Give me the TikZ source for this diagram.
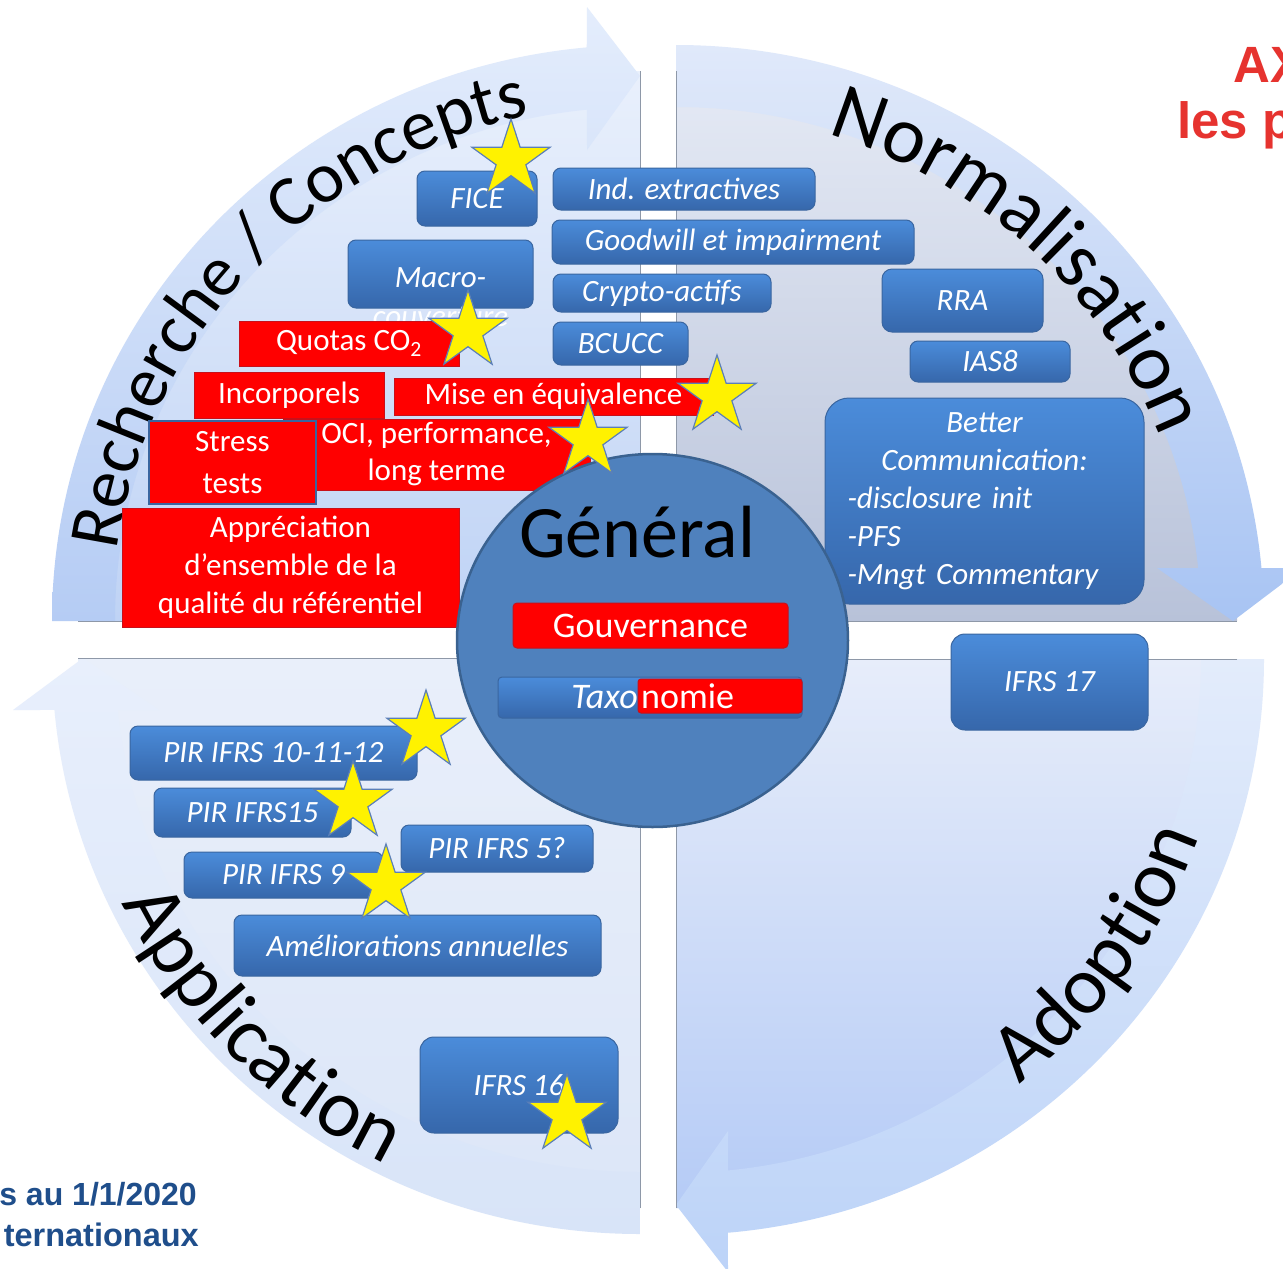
\documentclass[tikz,border=0pt]{standalone}
\usepackage{fontspec}
\setmainfont{Carlito}
\newfontfamily\arialfont{Liberation Sans}
\usetikzlibrary{shapes.geometric,decorations.text}

% box and shape colours
\definecolor{boxtop}{HTML}{4B8CDA}
\definecolor{boxbot}{HTML}{3667AB}
\definecolor{boxedge}{HTML}{3A66A0}
\definecolor{boxred}{HTML}{FF0000}
\definecolor{rededge}{HTML}{C8101A}
\definecolor{circfill}{HTML}{4F81BD}
\definecolor{circedge}{HTML}{3A6290}
\definecolor{staredge}{HTML}{5B7FB8}
\definecolor{pieline}{HTML}{8E98A8}
\definecolor{titlered}{HTML}{E6332F}
\definecolor{navytext}{HTML}{1F4E8B}
% quadrant colours (pie and arrow band, top/bottom)
\definecolor{tlpt}{HTML}{E9F0FC}\definecolor{tlpb}{HTML}{BFD3F5}
\definecolor{tlbt}{HTML}{E4EDFC}\definecolor{tlbb}{HTML}{B5CCF4}
\definecolor{trpt}{HTML}{E5EAF5}\definecolor{trpb}{HTML}{B8C2D9}
\definecolor{trbt}{HTML}{E0E9FA}\definecolor{trbb}{HTML}{A8C4F3}
\definecolor{brpt}{HTML}{E7EDFA}\definecolor{brpb}{HTML}{B5CBF6}
\definecolor{brbt}{HTML}{E3ECFB}\definecolor{brbb}{HTML}{BCD3F8}
\definecolor{blpt}{HTML}{E9EFFA}\definecolor{blpb}{HTML}{DCE6F8}
\definecolor{blbt}{HTML}{E8EFFC}\definecolor{blbb}{HTML}{D8E4F8}

\tikzset{
  pieedge/.style={draw=pieline, line width=1pt},
  boxsize/.style 2 args={minimum width=#1pt, minimum height=#2pt},
  bluebox/.style={rounded corners=8pt, top color=boxtop, bottom color=boxbot,
    draw=boxedge, line width=1pt, text=white, inner sep=0pt, align=center,
    font=\itshape\fontsize{31}{38}\selectfont},
  redbox/.style={fill=boxred, draw=rededge, line width=1pt, text=white,
    inner sep=0pt, align=center, font=\fontsize{31}{38}\selectfont},
  ystar/.style={star, star points=5, star point ratio=2.618, fill=yellow,
    draw=staredge, line width=1.2pt, minimum size=82pt, inner sep=0pt},
  plain/.style={inner sep=0pt}
}

\begin{document}
\begin{tikzpicture}[x=1pt, y=-1pt]

\useasboundingbox (0,0) rectangle (1283,1269);
\fill[white] (0,0) rectangle (1283,1269);

% ---------- quadrant: Recherche / Concepts ----------
\begin{scope}[shift={(640,621)}]
  \shade[top color=tlpt, bottom color=tlpb] (0,0) -- (180:562 and 550)
    arc[start angle=180, end angle=270, x radius=562, y radius=550] -- cycle;
  \shade[top color=tlbt, bottom color=tlbb] (180:588 and 576)
    arc[start angle=180, end angle=264.8, x radius=588, y radius=576]
    -- (-53,-614) -- (0,-545) -- (-53,-471) -- (264.2:525 and 514)
    arc[start angle=264.2, end angle=180, x radius=525, y radius=514] -- cycle;
  \draw[pieedge] (-562,0) -- (0,0) -- (0,-550);
  \path[decorate, decoration={text along path, text align=center,
    text={|\fontsize{72}{72}\selectfont|Recherche / Concepts}}]
    (148.5:528 and 517) arc[start angle=148.5, end angle=296.5, x radius=528, y radius=517];
\end{scope}

% ---------- quadrant: Normalisation ----------
\begin{scope}[shift={(676,621)}]
  \shade[top color=trpt, bottom color=trpb] (0,0) -- (270:561 and 550)
    arc[start angle=270, end angle=360, x radius=561, y radius=550] -- cycle;
  \shade[top color=trbt, bottom color=trbb] (270:588 and 576)
    arc[start angle=270, end angle=354.72, x radius=588, y radius=576]
    -- (627,-53) -- (557,0) -- (481,-53) -- (354.08:525 and 514)
    arc[start angle=354.08, end angle=270, x radius=525, y radius=514] -- cycle;
  \draw[pieedge] (0,-550) -- (0,0) -- (561,0);
  \path[decorate, decoration={text along path, text align=center,
    text={|\fontsize{81}{81}\selectfont|Normalisation}}]
    (253.2:519 and 509) arc[start angle=253.2, end angle=373.2, x radius=519, y radius=509];
\end{scope}

% ---------- quadrant: Adoption ----------
\begin{scope}[shift={(676,659)}]
  \shade[top color=brpt, bottom color=brpb] (0,0) -- (0:561 and 549)
    arc[start angle=0, end angle=90, x radius=561, y radius=549] -- cycle;
  \shade[top color=brbt, bottom color=brbb] (0:588 and 576)
    arc[start angle=0, end angle=84.93, x radius=588, y radius=576]
    -- (52,613) -- (0,546) -- (52,472) -- (84.32:525 and 514)
    arc[start angle=84.32, end angle=0, x radius=525, y radius=514] -- cycle;
  \draw[pieedge] (561,0) -- (0,0) -- (0,549);
  \path[decorate, decoration={text along path, text align=center,
    text={|\fontsize{82}{82}\selectfont|Adoption}}]
    (95:553 and 542) arc[start angle=95, end angle=-25, x radius=553, y radius=542];
\end{scope}

% ---------- quadrant: Application ----------
\begin{scope}[shift={(640,658)}]
  \shade[top color=blpt, bottom color=blpb] (0,0) -- (90:562 and 550)
    arc[start angle=90, end angle=180, x radius=562, y radius=550] -- cycle;
  \shade[top color=blbt, bottom color=blbb] (90:588 and 576)
    arc[start angle=90, end angle=174.82, x radius=588, y radius=576]
    -- (-627,52) -- (-557,0) -- (-481,52) -- (174.19:525 and 514)
    arc[start angle=174.19, end angle=90, x radius=525, y radius=514] -- cycle;
  \draw[pieedge] (0,550) -- (0,0) -- (-562,0);
  \path[decorate, decoration={text along path, text align=center,
    text={|\fontsize{82}{82}\selectfont|Application}}]
    (195.6:576 and 564) arc[start angle=195.6, end angle=75.6, x radius=576, y radius=564];
\end{scope}

% ---------- titles ----------
\node[plain, anchor=base west, text=titlered, font=\arialfont\bfseries\fontsize{51}{51}\selectfont] (title1) at (1233,82) {AX};
\node[plain, anchor=base west, text=titlered, font=\arialfont\bfseries\fontsize{51}{51}\selectfont] (title2) at (1177,138) {les p};
\node[plain, anchor=base east, text=navytext, font=\arialfont\bfseries\fontsize{32}{32}\selectfont] (foot1) at (197,1205) {s au 1/1/2020};
\node[plain, anchor=base east, text=navytext, font=\arialfont\bfseries\fontsize{32.5}{32.5}\selectfont] (foot2) at (199,1246) {ternationaux};

% ---------- Recherche / Concepts items ----------
\node[bluebox, boxsize={120}{55}] (fice) at (477,198.5) {FICE};
\node[bluebox, boxsize={262}{42}] (indext) at (684,189) {Ind. extractives};
\node[bluebox, boxsize={362}{44}] (goodwill) at (733,242) {Goodwill et impairment};
\node[bluebox, boxsize={218}{38}] (crypto) at (662,293) {Crypto-actifs};
\node[bluebox, boxsize={135}{43}] (bcucc) at (620.5,343.5) {BCUCC};
\node[bluebox, boxsize={185}{68}] (macro) at (440.5,274) {};
\node[plain, text=white, align=center, font=\itshape\fontsize{31}{39}\selectfont] (macrotxt) at (440.5,297) {Macro-\\couverture};

\node[redbox, boxsize={220}{45}] (quotas) at (349,343.5) {Quotas CO\textsubscript{2}};
\node[redbox, boxsize={190}{46}] (incorp) at (289,395) {Incorporels};
\node[redbox, boxsize={319}{37}] (mise) at (553.5,396.5) {Mise en équivalence};
\node[redbox, boxsize={307}{71}, font=\fontsize{31}{37}\selectfont] (oci) at (436.5,454.5) {OCI, performance,\\long terme};
\node[redbox, draw=boxedge, line width=1.5pt, boxsize={167}{83}, font=\fontsize{31}{42}\selectfont] (stress) at (232.5,462.5) {Stress\\tests};
\node[redbox, boxsize={337}{119}] (apprec) at (290.5,567.5) {Appréciation\\d’ensemble de la\\qualité du référentiel};

% ---------- Normalisation items ----------
\node[bluebox, rounded corners=10pt, boxsize={161}{63}] (rra) at (962.5,300.5) {RRA};
\node[bluebox, boxsize={160}{41}] (ias8) at (990,361.5) {IAS8};
\node[bluebox, rounded corners=24pt, boxsize={319}{206}, text width=274pt, align=left] (better) at (984.5,501)
  {\makebox[274pt]{Better}\\\makebox[274pt]{Communication:}\\-disclosure init\\-PFS\\-Mngt Commentary};

% ---------- Adoption items ----------
\node[bluebox, rounded corners=14pt, boxsize={197}{96}] (ifrs17) at (1049.5,682) {IFRS 17};

% ---------- Application items ----------
\node[bluebox, boxsize={287}{54}] (pir10) at (273.5,753) {PIR IFRS 10-11-12};
\node[bluebox, boxsize={197}{49}] (pir15) at (252.5,812.5) {PIR IFRS15};
\node[bluebox, boxsize={192}{47}] (pir5) at (497,848.5) {PIR IFRS 5?};
\node[bluebox, boxsize={199}{46}] (pir9) at (283.5,875) {PIR IFRS 9};
\node[bluebox, boxsize={367}{61}] (amelio) at (417.5,945.5) {Améliorations annuelles};
\node[bluebox, rounded corners=14pt, boxsize={198}{96}] (ifrs16) at (519,1085) {IFRS 16};

% ---------- centre ----------
\node[ellipse, fill=circfill, draw=circedge, line width=2.5pt, minimum width=391pt, minimum height=373pt, inner sep=0pt] (general) at (652.5,640.5) {};
\node[plain, anchor=base, font=\fontsize{74}{74}\selectfont] (gentxt) at (637,557) {Général};
\node[redbox, rounded corners=4pt, boxsize={275}{45}, font=\fontsize{36}{40}\selectfont] (gouv) at (650.5,625.5) {Gouvernance};
\node[bluebox, rounded corners=4pt, boxsize={304}{41}] (taxo) at (650,697.5) {};
\node[redbox, rounded corners=3pt, boxsize={164}{34}] (taxored) at (720,696) {};
\node[plain, anchor=base east, text=white, font=\itshape\fontsize{36}{40}\selectfont] (taxotxt) at (638,708) {Taxo};
\node[plain, anchor=base west, text=white, font=\fontsize{36}{40}\selectfont] (nomietxt) at (641,708) {nomie};

% ---------- stars ----------
\node[ystar] (star1) at (511,160) {};
\node[ystar] (star2) at (468,331) {};
\node[ystar] (star3) at (717,396) {};
\node[ystar] (star4) at (588,440) {};
\node[ystar] (star5) at (426,731) {};
\node[ystar] (star6) at (353,802) {};
\node[ystar] (star7) at (386,885) {};
\node[ystar] (star8) at (567,1115) {};

\end{tikzpicture}
\end{document}
